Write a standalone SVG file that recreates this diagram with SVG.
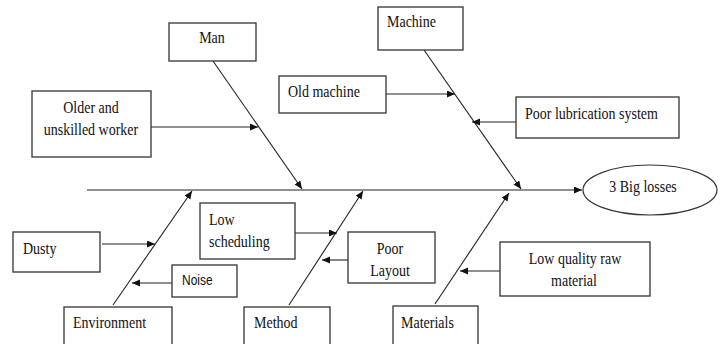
<svg xmlns="http://www.w3.org/2000/svg" width="724" height="344" viewBox="0 0 724 344">
<defs>
<style>
.box{fill:#fff;stroke:#333;stroke-width:1.3}
.ln{fill:none;stroke:#222;stroke-width:1.1}
.t{font-family:"Liberation Serif","Times New Roman",serif;font-size:14px;fill:#111}
.s{font-family:"Liberation Sans",Arial,sans-serif;font-size:12px;fill:#111}
.m{text-anchor:middle}
</style>
<marker id="ah" markerUnits="userSpaceOnUse" markerWidth="9" markerHeight="8" refX="8" refY="3.5" orient="auto">
<path d="M0,0 L8,3.5 L0,7 z" fill="#111"/>
</marker>
</defs>
<rect width="724" height="344" fill="#fff"/>
<g id="connectors">
<line class="ln" x1="87" y1="190" x2="582" y2="190" marker-end="url(#ah)"/>
<line class="ln" x1="213" y1="61" x2="302" y2="189" marker-end="url(#ah)"/>
<line class="ln" x1="151" y1="127" x2="258" y2="127" marker-end="url(#ah)"/>
<line class="ln" x1="424" y1="50" x2="521" y2="189" marker-end="url(#ah)"/>
<line class="ln" x1="386" y1="94" x2="455" y2="94" marker-end="url(#ah)"/>
<line class="ln" x1="516" y1="122" x2="472" y2="122" marker-end="url(#ah)"/>
<line class="ln" x1="113" y1="305" x2="192" y2="191" marker-end="url(#ah)"/>
<line class="ln" x1="102" y1="244" x2="155" y2="244" marker-end="url(#ah)"/>
<line class="ln" x1="172" y1="283" x2="132" y2="283" marker-end="url(#ah)"/>
<line class="ln" x1="289" y1="305" x2="363" y2="191" marker-end="url(#ah)"/>
<line class="ln" x1="295" y1="233" x2="337" y2="233" marker-end="url(#ah)"/>
<line class="ln" x1="348" y1="260" x2="322" y2="260" marker-end="url(#ah)"/>
<line class="ln" x1="435" y1="304" x2="509" y2="193" marker-end="url(#ah)"/>
<line class="ln" x1="500" y1="271" x2="460" y2="271" marker-end="url(#ah)"/>
</g>
<g id="man">
<rect class="box" x="169" y="23" width="87" height="38"/>
<text class="t m" transform="translate(212 43) scale(1 1.22)">Man</text>
</g>
<g id="older">
<rect class="box" x="32" y="91" width="119" height="66"/>
<text class="t m" transform="translate(91 113) scale(1 1.22)">Older and</text>
<text class="t m" transform="translate(91 135) scale(1 1.22)">unskilled worker</text>
</g>
<g id="machine">
<rect class="box" x="378" y="7" width="85" height="43"/>
<text class="t" transform="translate(387 27) scale(1 1.22)">Machine</text>
</g>
<g id="oldmachine">
<rect class="box" x="279" y="76" width="107" height="37"/>
<text class="t" transform="translate(288 97) scale(1 1.22)">Old machine</text>
</g>
<g id="lubrication">
<rect class="box" x="516" y="97" width="163" height="41"/>
<text class="t" transform="translate(525 119) scale(1 1.22)">Poor lubrication system</text>
</g>
<g id="losses">
<ellipse cx="650" cy="190" rx="67" ry="25" fill="#fff" stroke="#333" stroke-width="1.2"/>
<text class="t m" transform="translate(643 192) scale(1 1.22)">3 Big losses</text>
</g>
<g id="dusty">
<rect class="box" x="13" y="232" width="87" height="40"/>
<text class="t" transform="translate(23 254) scale(1 1.22)">Dusty</text>
</g>
<g id="noise">
<rect class="box" x="172" y="265" width="65" height="32"/>
<text class="s" transform="translate(182 285) scale(1 1.25)">Noise</text>
</g>
<g id="environment">
<rect class="box" x="64" y="307" width="108" height="42"/>
<text class="t" transform="translate(73 328) scale(1 1.22)">Environment</text>
</g>
<g id="scheduling">
<rect class="box" x="200" y="203" width="95" height="56"/>
<text class="t" transform="translate(209 225) scale(1 1.22)">Low</text>
<text class="t" transform="translate(209 247) scale(1 1.22)">scheduling</text>
</g>
<g id="method">
<rect class="box" x="244" y="307" width="86" height="42"/>
<text class="t" transform="translate(254 328) scale(1 1.22)">Method</text>
</g>
<g id="layout">
<rect class="box" x="348" y="232" width="87" height="51"/>
<text class="t m" transform="translate(390 254) scale(1 1.22)">Poor</text>
<text class="t m" transform="translate(390 276) scale(1 1.22)">Layout</text>
</g>
<g id="rawmaterial">
<rect class="box" x="500" y="242" width="150" height="54"/>
<text class="t m" transform="translate(575 264) scale(1 1.22)">Low quality raw</text>
<text class="t m" transform="translate(574 286) scale(1 1.22)">material</text>
</g>
<g id="materials">
<rect class="box" x="393" y="306" width="85" height="43"/>
<text class="t" transform="translate(401 328) scale(1 1.22)">Materials</text>
</g>
</svg>
